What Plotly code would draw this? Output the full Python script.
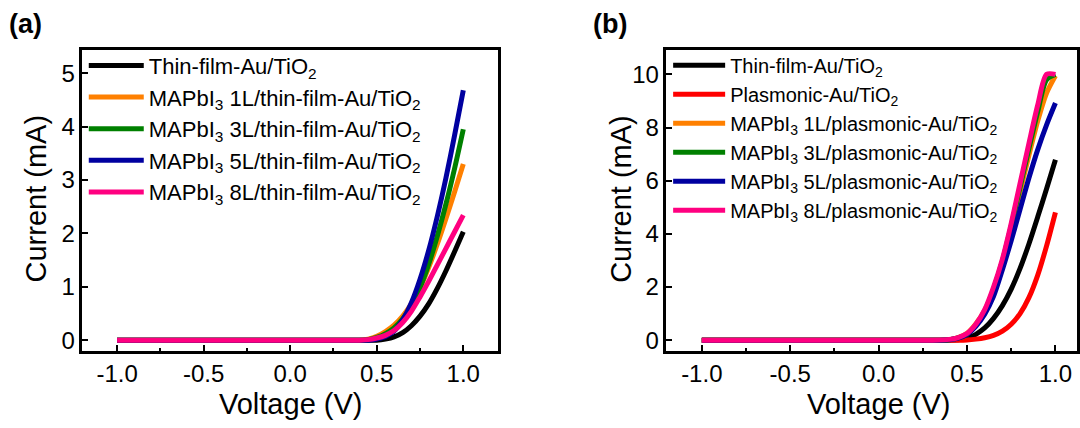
import plotly.graph_objects as go
from plotly.subplots import make_subplots

# Bias voltage sweep (V), shared by every I-V curve
voltage = [-1.0, -0.5, 0.0, 0.3, 0.4, 0.45, 0.5, 0.55, 0.6, 0.65, 0.7, 0.75, 0.8, 0.85, 0.9, 0.95, 1.0]

# (a) thin-film Au / TiO2 devices, current in mA
a_names = [
    "Thin-film-Au/TiO<sub>2</sub>",
    "MAPbI<sub>3</sub> 1L/thin-film-Au/TiO<sub>2</sub>",
    "MAPbI<sub>3</sub> 3L/thin-film-Au/TiO<sub>2</sub>",
    "MAPbI<sub>3</sub> 5L/thin-film-Au/TiO<sub>2</sub>",
    "MAPbI<sub>3</sub> 8L/thin-film-Au/TiO<sub>2</sub>",
]
a_thin = [0, 0, 0, 0, 0, 0, 0.0, 0.02, 0.06, 0.14, 0.27, 0.45, 0.68, 0.97, 1.3, 1.66, 2.03]
a_1L = [0, 0, 0, 0, 0, 0.02, 0.07, 0.16, 0.28, 0.45, 0.68, 0.98, 1.36, 1.8, 2.28, 2.78, 3.3]
a_3L = [0, 0, 0, 0, 0, 0.01, 0.05, 0.12, 0.23, 0.4, 0.64, 0.98, 1.42, 1.95, 2.55, 3.22, 3.95]
a_5L = [0, 0, 0, 0, 0, 0.0, 0.02, 0.07, 0.17, 0.38, 0.7, 1.14, 1.68, 2.32, 3.04, 3.84, 4.68]
a_8L = [0, 0, 0, 0, 0, 0.01, 0.04, 0.09, 0.18, 0.33, 0.54, 0.81, 1.1, 1.41, 1.72, 2.03, 2.34]

# (b) plasmonic Au / TiO2 devices, current in mA
b_names = [
    "Thin-film-Au/TiO<sub>2</sub>",
    "Plasmonic-Au/TiO<sub>2</sub>",
    "MAPbI<sub>3</sub> 1L/plasmonic-Au/TiO<sub>2</sub>",
    "MAPbI<sub>3</sub> 3L/plasmonic-Au/TiO<sub>2</sub>",
    "MAPbI<sub>3</sub> 5L/plasmonic-Au/TiO<sub>2</sub>",
    "MAPbI<sub>3</sub> 8L/plasmonic-Au/TiO<sub>2</sub>",
]
b_thin = [0, 0, 0, 0, 0, 0.02, 0.08, 0.22, 0.46, 0.82, 1.3, 1.92, 2.7, 3.62, 4.64, 5.7, 6.79]
b_plas = [0, 0, 0, 0, 0, 0, 0.01, 0.04, 0.09, 0.18, 0.34, 0.6, 1.0, 1.6, 2.45, 3.55, 4.81]
b_1L = [0, 0, 0, 0, 0.02, 0.1, 0.26, 0.62, 1.12, 1.9, 2.95, 4.22, 5.58, 6.95, 8.25, 9.3, 9.95]
b_3L = [0, 0, 0, 0, 0.02, 0.09, 0.22, 0.56, 1.08, 1.92, 2.98, 4.3, 5.75, 7.2, 8.6, 9.8, 10.0]
b_5L = [0, 0, 0, 0, 0.02, 0.08, 0.22, 0.52, 0.98, 1.65, 2.65, 3.75, 4.92, 6.1, 7.17, 8.1, 8.92]
b_8L = [0, 0, 0, 0, 0.03, 0.1, 0.25, 0.6, 1.15, 2.0, 3.05, 4.4, 5.9, 7.4, 8.85, 10.0, 10.0]

a_colors = ["#000000", "#FF8000", "#008000", "#0000A0", "#FF0080"]
b_colors = ["#000000", "#FF0000", "#FF8000", "#008000", "#0000A0", "#FF0080"]

x_ticks = [-1.0, -0.5, 0.0, 0.5, 1.0]
x_ticktext = ["-1.0", "-0.5", "0.0", "0.5", "1.0"]

FONT = "Liberation Sans, Arial, sans-serif"
W, H = 1080, 428

fig = make_subplots(rows=1, cols=2)

for name, ys, col in zip(a_names, [a_thin, a_1L, a_3L, a_5L, a_8L], a_colors):
    fig.add_trace(go.Scatter(x=voltage, y=ys, mode="lines", name=name,
                             line=dict(color=col, width=5, shape="spline", smoothing=0.8),
                             legend="legend"), row=1, col=1)

for name, ys, col in zip(b_names, [b_thin, b_plas, b_1L, b_3L, b_5L, b_8L], b_colors):
    fig.add_trace(go.Scatter(x=voltage, y=ys, mode="lines", name=name,
                             line=dict(color=col, width=5, shape="spline", smoothing=0.8),
                             legend="legend2"), row=1, col=2)

ytop = 1 - 50 / H
ybot = 1 - 353.3 / H
ax_common = dict(showgrid=False, zeroline=False, showline=True, linecolor="black",
                 linewidth=2.5, mirror=True, ticks="inside", ticklen=6, tickwidth=2,
                 tickcolor="black", tickfont=dict(family=FONT, size=24, color="black"))

fig.update_xaxes(**ax_common, tickvals=x_ticks, ticktext=x_ticktext,
                 minor=dict(ticks="inside", ticklen=3, tickwidth=2, dtick=0.25, tick0=0,
                            tickcolor="black"))
fig.update_yaxes(**ax_common)

legend_style = dict(xanchor="left", yanchor="top", bgcolor="rgba(0,0,0,0)", tracegroupgap=0)

fig.update_layout(
    width=W, height=H,
    margin=dict(l=0, r=0, t=0, b=0),
    paper_bgcolor="white", plot_bgcolor="white",
    font=dict(family=FONT, color="black"),
    xaxis=dict(domain=[82.7 / W, 499.3 / W], range=[-1.2, 1.2]),
    xaxis2=dict(domain=[668.3 / W, 1.0], range=[-1.2, 1.122]),
    yaxis=dict(domain=[ybot, ytop], range=[-0.2, 5.44], tickvals=[0, 1, 2, 3, 4, 5]),
    yaxis2=dict(domain=[ybot, ytop], range=[-0.4, 10.93], tickvals=[0, 2, 4, 6, 8, 10]),
    legend=dict(x=84 / W, y=1 - 45 / H, itemwidth=55,
                font=dict(family=FONT, size=22, color="black"), **legend_style),
    legend2=dict(x=670 / W, y=1 - 46 / H, itemwidth=52,
                 font=dict(family=FONT, size=20, color="black"), **legend_style),
    showlegend=True,
)

# Axis titles and panel letters
ann = []
for cx in [(82.7 + 499.3) / 2, (668.3 + 1093) / 2]:
    ann.append(dict(text="Voltage (V)", x=cx / W, y=1 - 407 / H, xref="paper", yref="paper",
                    showarrow=False, xanchor="center", yanchor="middle",
                    font=dict(family=FONT, size=29, color="black")))
for cx in [36, 622]:
    ann.append(dict(text="Current (mA)", x=cx / W, y=1 - 200 / H, xref="paper", yref="paper",
                    showarrow=False, textangle=-90, xanchor="center", yanchor="middle",
                    font=dict(family=FONT, size=29, color="black")))
for lbl, cx in [("(a)", 26), ("(b)", 612)]:
    ann.append(dict(text="<b>" + lbl + "</b>", x=cx / W, y=1 - 24 / H, xref="paper", yref="paper",
                    showarrow=False, xanchor="center", yanchor="middle",
                    font=dict(family=FONT, size=27, color="black")))
fig.update_layout(annotations=ann)

fig.write_html("out.html")
